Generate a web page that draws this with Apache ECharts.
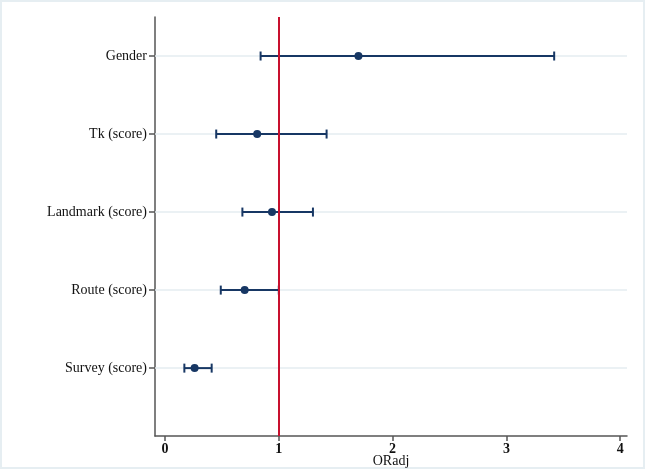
<!DOCTYPE html>
<html>
<head>
<meta charset="utf-8">
<script src="https://cdn.jsdelivr.net/npm/echarts@6/dist/echarts.min.js"></script>
<style>
html,body{margin:0;padding:0;background:#fff;}
#chart{width:645px;height:469px;box-shadow:inset 0 0 0 2px #e6eef2;background:#fff;}
</style>
</head>
<body>
<div id="chart"></div>
<script>
// Categories from bottom (position 1) to top (position 5)
const categories = ['Survey (score)', 'Route (score)', 'Landmark (score)', 'Tk (score)', 'Gender'];
const positions = [1, 2, 3, 4, 5];
const oddsRatio = [0.26, 0.70, 0.94, 0.81, 1.70];
const lowerCI  = [0.17, 0.49, 0.68, 0.45, 0.84];
const upperCI  = [0.41, 1.00, 1.30, 1.42, 3.42];
const xTicks = [0, 1, 2, 3, 4];
const refValue = 1;

const navy = '#173764';
const serif = '"Liberation Serif", "DejaVu Serif", serif';

const chart = echarts.init(document.getElementById('chart'), null, {renderer: 'canvas'});

const ciData = positions.map((p, i) => [lowerCI[i], upperCI[i], p]);
const pointData = positions.map((p, i) => [oddsRatio[i], p]);

const option = {
  animation: false,
  grid: {left: 155, right: 18, top: 17, bottom: 33, outerBoundsMode: 'none', containLabel: false},
  xAxis: {
    type: 'value',
    min: -0.088,
    max: 4.06,
    name: 'ORadj',
    nameLocation: 'middle',
    nameGap: 18,
    nameMoveOverlap: false,
    nameTextStyle: {fontFamily: serif, fontSize: 14, color: '#111', verticalAlign: 'top'},
    axisLine: {show: true, onZero: false, lineStyle: {color: '#555', width: 1.5}},
    axisTick: {show: true, length: 5, lineStyle: {color: '#555', width: 1.5}, customValues: xTicks},
    axisLabel: {fontFamily: serif, fontSize: 14, fontWeight: 'bold', color: '#111', margin: 6, customValues: xTicks},
    splitLine: {show: false}
  },
  yAxis: {
    type: 'value',
    min: 0.13,
    max: 5.5,
    axisLine: {show: true, onZero: false, lineStyle: {color: '#555', width: 1.5}},
    axisTick: {show: true, length: 6, lineStyle: {color: '#555', width: 1.5}, customValues: positions},
    axisLabel: {
      fontFamily: serif, fontSize: 14, color: '#111', margin: 8,
      customValues: positions,
      formatter: v => categories[positions.indexOf(Math.round(v))] || ''
    },
    splitLine: {show: false}
  },
  series: [
    {
      type: 'scatter',
      name: 'grid',
      data: [],
      silent: true,
      z: 1,
      markLine: {
        z: 1,
        silent: true,
        symbol: 'none',
        label: {show: false},
        lineStyle: {color: '#e4edf1', width: 1.5, type: 'solid', opacity: 1},
        data: positions.map(p => ({yAxis: p}))
      }
    },
    {
      type: 'scatter',
      name: 'ref',
      data: [],
      silent: true,
      z: 6,
      markLine: {
        z: 6,
        silent: true,
        symbol: 'none',
        label: {show: false},
        lineStyle: {color: '#c8102e', width: 2, type: 'solid', opacity: 1},
        data: [{xAxis: refValue}]
      }
    },
    {
      type: 'custom',
      name: 'CI',
      data: ciData,
      encode: {x: [0, 1], y: 2},
      renderItem: function (params, api) {
        const p = api.value(2);
        const a = api.coord([api.value(0), p]);
        const b = api.coord([api.value(1), p]);
        const h = 4.5;
        const style = {stroke: navy, lineWidth: 2, opacity: 1};
        return {
          type: 'group',
          children: [
            {type: 'line', shape: {x1: a[0], y1: a[1], x2: b[0], y2: b[1]}, style: style},
            {type: 'line', shape: {x1: a[0], y1: a[1] - h, x2: a[0], y2: a[1] + h}, style: style},
            {type: 'line', shape: {x1: b[0], y1: b[1] - h, x2: b[0], y2: b[1] + h}, style: style}
          ]
        };
      },
      z: 3
    },
    {
      type: 'scatter',
      name: 'OR',
      data: pointData,
      symbol: 'circle',
      symbolSize: 8,
      itemStyle: {color: navy, opacity: 1},
      z: 4
    }
  ]
};
chart.setOption(option);
</script>
</body>
</html>
